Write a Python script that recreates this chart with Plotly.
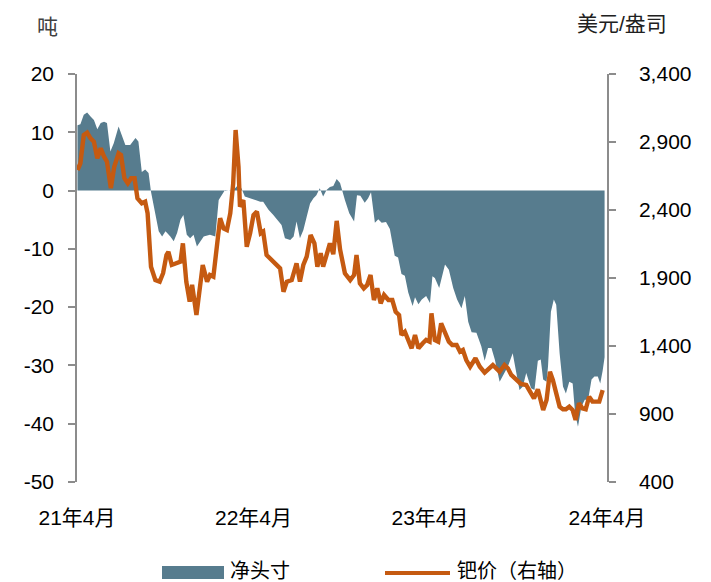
import plotly.graph_objects as go

# ---------------- data ----------------
pos_dates = [
    "2021-04-02", "2021-04-08", "2021-04-15", "2021-04-22", "2021-04-29", "2021-05-06", "2021-05-13",
    "2021-05-20", "2021-05-27", "2021-06-02", "2021-06-09", "2021-06-16", "2021-06-26", "2021-07-03",
    "2021-07-10", "2021-07-20", "2021-07-31", "2021-08-06", "2021-08-13", "2021-08-20", "2021-08-27",
    "2021-09-01", "2021-09-10", "2021-09-17", "2021-09-24", "2021-10-01", "2021-10-11", "2021-10-18",
    "2021-10-25", "2021-11-01", "2021-11-07", "2021-11-14", "2021-11-21", "2021-11-28", "2021-12-05",
    "2021-12-12", "2021-12-19", "2022-01-01", "2022-01-12", "2022-01-19", "2022-01-25", "2022-02-01",
    "2022-02-08", "2022-02-18", "2022-03-01", "2022-03-07", "2022-03-14", "2022-03-25", "2022-04-04",
    "2022-04-15", "2022-04-21", "2022-05-02", "2022-05-12", "2022-05-23", "2022-05-29", "2022-06-05",
    "2022-06-16", "2022-06-23", "2022-06-29", "2022-07-06", "2022-07-13", "2022-07-20", "2022-07-27",
    "2022-08-03", "2022-08-09", "2022-08-16", "2022-08-23", "2022-08-30", "2022-09-06", "2022-09-13",
    "2022-09-20", "2022-09-27", "2022-09-30", "2022-10-07", "2022-10-16", "2022-10-26", "2022-11-01",
    "2022-11-08", "2022-11-17", "2022-11-24", "2022-11-30", "2022-12-04", "2022-12-08", "2022-12-15",
    "2022-12-22", "2022-12-31", "2023-01-08", "2023-01-18", "2023-01-25", "2023-02-01", "2023-02-08",
    "2023-02-15", "2023-02-24", "2023-03-01", "2023-03-08", "2023-03-15", "2023-03-24", "2023-04-01",
    "2023-04-06", "2023-04-11", "2023-04-20", "2023-05-02", "2023-05-10", "2023-05-19", "2023-05-27",
    "2023-06-05", "2023-06-12", "2023-06-19", "2023-06-26", "2023-07-06", "2023-07-16", "2023-07-23",
    "2023-07-30", "2023-08-06", "2023-08-13", "2023-08-23", "2023-09-02", "2023-09-09", "2023-09-19",
    "2023-09-26", "2023-10-03", "2023-10-10", "2023-10-17", "2023-10-27", "2023-11-03", "2023-11-10",
    "2023-11-16", "2023-11-21", "2023-11-28", "2023-12-01", "2023-12-07", "2023-12-13", "2023-12-18",
    "2023-12-25", "2024-01-01", "2024-01-07", "2024-01-14", "2024-01-21", "2024-01-26", "2024-02-01",
    "2024-02-08", "2024-02-15", "2024-02-22", "2024-02-29", "2024-03-06", "2024-03-13", "2024-03-18",
    "2024-03-23", "2024-03-27",
]
pos_values = [
    11.2, 11.4, 13.0, 13.4, 12.7, 12.1, 10.5,
    11.6, 11.8, 11.6, 6.7, 8.1, 11.0, 9.3,
    7.8, 7.8, 9.0, 8.4, 3.2, 3.6, 3.0,
    -0.2, -3.8, -7.0, -7.9, -7.0, -7.9, -8.7,
    -7.3, -5.0, -4.2, -7.6, -8.2, -7.6, -9.6,
    -8.7, -7.9, -7.6, -7.9, -1.6, -0.8, 0.1,
    0.0, 0.1, 1.0, 0.4, -1.0, -1.3, -1.6,
    -1.9, -1.9, -3.3, -4.2, -5.3, -5.9, -8.2,
    -8.5, -7.9, -5.3, -8.2, -6.8, -4.5, -2.2,
    -1.3, -0.8, 0.4, -1.0, 0.1, 0.6, 0.8,
    2.0, 1.3, 0.4, -1.6, -3.9, -5.3, -0.8,
    -0.9, -2.1, -1.3, -0.3, -2.7, -5.5, -4.9,
    -5.5, -5.4, -6.6, -11.2, -11.5, -14.3, -14.6,
    -17.5, -19.8, -18.3, -19.5, -18.7, -18.1, -19.3,
    -14.7, -15.0, -16.7, -12.7, -13.6, -16.7, -18.7,
    -20.2, -18.1, -22.5, -24.3, -24.4, -26.7, -29.2,
    -27.0, -27.0, -29.0, -32.8, -31.3, -30.2, -27.9,
    -31.3, -34.2, -33.6, -31.3, -33.9, -34.2, -29.2,
    -29.0, -32.4, -32.8, -30.2, -20.8, -18.7, -19.6,
    -27.9, -33.6, -34.8, -32.8, -33.1, -38.2, -40.5,
    -37.1, -35.9, -35.9, -32.4, -31.9, -31.9, -33.1,
    -30.9, -28.6,
]

price_dates = [
    "2021-04-02", "2021-04-08", "2021-04-15", "2021-04-22", "2021-04-29", "2021-05-06", "2021-05-13",
    "2021-05-20", "2021-05-27", "2021-06-02", "2021-06-10", "2021-06-17", "2021-06-26", "2021-07-01",
    "2021-07-08", "2021-07-15", "2021-07-22", "2021-07-29", "2021-08-04", "2021-08-13", "2021-08-20",
    "2021-08-25", "2021-09-01", "2021-09-10", "2021-09-19", "2021-09-26", "2021-10-03", "2021-10-07",
    "2021-10-14", "2021-10-25", "2021-11-01", "2021-11-06", "2021-11-13", "2021-11-20", "2021-11-25",
    "2021-12-04", "2021-12-11", "2021-12-17", "2021-12-26", "2022-01-01", "2022-01-08", "2022-01-17",
    "2022-01-22", "2022-01-29", "2022-02-05", "2022-02-12", "2022-02-18", "2022-02-23", "2022-03-01",
    "2022-03-04", "2022-03-11", "2022-03-18", "2022-03-25", "2022-04-01", "2022-04-08", "2022-04-16",
    "2022-04-21", "2022-04-28", "2022-05-09", "2022-05-19", "2022-05-26", "2022-06-02", "2022-06-09",
    "2022-06-19", "2022-06-29", "2022-07-06", "2022-07-13", "2022-07-20", "2022-07-28", "2022-08-05",
    "2022-08-11", "2022-08-18", "2022-08-23", "2022-08-30", "2022-09-06", "2022-09-13", "2022-09-20",
    "2022-09-27", "2022-10-02", "2022-10-07", "2022-10-18", "2022-10-26", "2022-10-31", "2022-11-07",
    "2022-11-15", "2022-11-22", "2022-11-29", "2022-12-06", "2022-12-13", "2022-12-20", "2022-12-27",
    "2023-01-05", "2023-01-13", "2023-01-20", "2023-01-27", "2023-02-01", "2023-02-08", "2023-02-15",
    "2023-02-22", "2023-03-01", "2023-03-08", "2023-03-17", "2023-03-24", "2023-03-31", "2023-04-04",
    "2023-04-11", "2023-04-18", "2023-04-24", "2023-05-02", "2023-05-10", "2023-05-17", "2023-05-26",
    "2023-06-02", "2023-06-08", "2023-06-15", "2023-06-23", "2023-07-04", "2023-07-13", "2023-07-23",
    "2023-07-30", "2023-08-09", "2023-08-16", "2023-08-23", "2023-09-02", "2023-09-09", "2023-09-16",
    "2023-09-26", "2023-10-06", "2023-10-17", "2023-10-26", "2023-11-02", "2023-11-10", "2023-11-16",
    "2023-11-21", "2023-11-28", "2023-12-05", "2023-12-11", "2023-12-18", "2023-12-25", "2024-01-01",
    "2024-01-07", "2024-01-14", "2024-01-21", "2024-01-27", "2024-02-03", "2024-02-10", "2024-02-17",
    "2024-02-24", "2024-03-02", "2024-03-09", "2024-03-16", "2024-03-23",
]
price_values = [
    2694, 2743, 2951, 2968, 2927, 2902, 2780,
    2854, 2792, 2755, 2560, 2718, 2817, 2804,
    2633, 2596, 2633, 2633, 2486, 2449, 2461,
    2376, 1983, 1885, 1873, 1935, 2069, 2093,
    1996, 2008, 2020, 2155, 1873, 1726, 1849,
    1628, 1836, 1996, 1873, 1922, 1910, 2155,
    2339, 2265, 2253, 2376, 2596, 2988, 2718,
    2424, 2473, 2130, 2229, 2363, 2388, 2229,
    2241, 2069, 2032, 1996, 1971, 1799, 1873,
    1885, 2008, 1873, 1996, 2057, 2216, 2155,
    1983, 2082, 1983, 2069, 2155, 2075, 2320,
    2110, 2008, 1935, 1885, 1922, 2069, 1861,
    1824, 1849, 1922, 1738, 1824, 1714, 1775,
    1738, 1738, 1652, 1628, 1481, 1505, 1432,
    1383, 1481, 1383, 1420, 1444, 1432, 1640,
    1444, 1432, 1567, 1505, 1432, 1407, 1407,
    1358, 1371, 1297, 1248, 1310, 1248, 1204,
    1224, 1260, 1236, 1211, 1260, 1236, 1187,
    1150, 1121, 1113, 1052, 1015, 1082, 1003,
    929, 1003, 1211, 1150, 1052, 954, 935,
    935, 954, 929, 856, 979, 942, 935,
    1027, 991, 991, 991, 1076,
]

x_tickvals = ["2021-04-01", "2022-04-01", "2023-04-01", "2024-04-01"]
x_ticktext = ["21年4月", "22年4月", "23年4月", "24年4月"]
left_ticks = [-50, -40, -30, -20, -10, 0, 10, 20]
left_ticktext = ["-50", "-40", "-30", "-20", "-10", "0", "10", "20"]
right_ticks = [400, 900, 1400, 1900, 2400, 2900, 3400]
series_names = ["净头寸", "钯价（右轴）"]
left_unit = "吨"
right_unit = "美元/盎司"

# ---------------- style ----------------
AREA = "#577c8e"
ORANGE = "#c55a11"
AXIS = "#8c8c8c"
FONT = "Liberation Sans, Noto Sans CJK SC, sans-serif"
W, H = 711, 582
L, R, T, B = 77, 104, 74, 100


def px_x(p):
    return (p - L) / (W - L - R)


def px_y(p):
    return (H - B - p) / (H - B - T)


fig = go.Figure()
fig.add_trace(go.Scatter(
    x=pos_dates, y=pos_values, name=series_names[0], mode="lines",
    fill="tozeroy", fillcolor=AREA, line=dict(width=0, color=AREA),
    yaxis="y", showlegend=False,
))
fig.add_trace(go.Scatter(
    x=price_dates, y=price_values, name=series_names[1], mode="lines",
    line=dict(width=4.4, color=ORANGE), yaxis="y2", showlegend=False,
))

fig.update_layout(
    width=W, height=H,
    margin=dict(l=L, r=R, t=T, b=B, pad=0),
    paper_bgcolor="white", plot_bgcolor="white",
    font=dict(family=FONT, size=21, color="#000000"),
    showlegend=False,
    xaxis=dict(
        type="date", range=["2021-04-01", "2024-04-01"],
        tickvals=x_tickvals, ticktext=x_ticktext,
        showline=False, ticks="", showgrid=False, zeroline=False,
        ticklabelstandoff=21,
    ),
    yaxis=dict(
        range=[-50, 20], tickvals=left_ticks, ticktext=left_ticktext,
        ticks="outside", ticklen=7,
        tickwidth=1.5, tickcolor=AXIS, showline=True, linecolor=AXIS, linewidth=1.5,
        showgrid=False, zeroline=False, ticklabelstandoff=10,
    ),
    yaxis2=dict(
        range=[400, 3400], tickvals=right_ticks, tickformat=",", overlaying="y",
        side="right", ticks="outside", ticklen=7, tickwidth=1.5, tickcolor=AXIS,
        showline=True, linecolor=AXIS, linewidth=1.5, showgrid=False, zeroline=False,
        ticklabelstandoff=19,
    ),
)

# unit labels
fig.add_annotation(text=left_unit, x=px_x(47), y=px_y(27), xref="paper", yref="paper",
                   showarrow=False, xanchor="center", yanchor="middle",
                   font=dict(size=21, color="#404040"))
fig.add_annotation(text=right_unit, x=px_x(622), y=px_y(23), xref="paper", yref="paper",
                   showarrow=False, xanchor="center", yanchor="middle",
                   font=dict(size=21, color="#202020"))

# custom legend
fig.add_shape(type="rect", xref="paper", yref="paper",
              x0=px_x(162), x1=px_x(224), y0=px_y(579), y1=px_y(566),
              fillcolor=AREA, line=dict(width=0))
fig.add_shape(type="line", xref="paper", yref="paper",
              x0=px_x(385), x1=px_x(450), y0=px_y(573), y1=px_y(573),
              line=dict(color=ORANGE, width=4))
fig.add_annotation(text=series_names[0], x=px_x(228), y=px_y(571), xref="paper", yref="paper",
                   showarrow=False, xanchor="left", yanchor="middle", font=dict(size=20))
fig.add_annotation(text=series_names[1], x=px_x(455), y=px_y(571), xref="paper", yref="paper",
                   showarrow=False, xanchor="left", yanchor="middle", font=dict(size=20))

fig.write_html("out.html", config={"displayModeBar": False},
               post_script="document.body.style.margin='0px';")
